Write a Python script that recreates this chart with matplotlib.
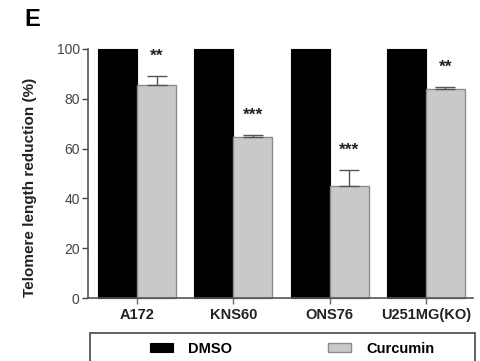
from matplotlib import pyplot as plt
from matplotlib.patches import Rectangle
import numpy as np

plt.rcParams["font.family"] = ["Liberation Sans", "DejaVu Sans"]

cell_lines = ["A172", "KNS60", "ONS76", "U251MG(KO)"]
dmso = [100, 100, 100, 100]
curcumin = [85.5, 64.8, 45.0, 84.0]
curcumin_err = [3.7, 0.5, 6.5, 0.6]
stars = ["**", "***", "***", "**"]

fig = plt.figure(figsize=(4.81, 3.61), dpi=100)
ax = fig.add_axes([0.183, 0.1745, 0.8004, 0.6898])

x = np.arange(len(cell_lines))
w = 0.405
ax.bar(x - w / 2, dmso, w, color="black", edgecolor="black", linewidth=0.8,
       label="DMSO", clip_on=False)
ax.bar(x + w / 2, curcumin, w, color="#c9c9c9", edgecolor="#8c8c8c", linewidth=1.0,
       label="Curcumin", clip_on=False)
ax.errorbar(x + w / 2, curcumin, yerr=[np.zeros(4), curcumin_err], fmt="none",
            ecolor="#555555", elinewidth=1.0, capsize=7, capthick=1.0)

# significance stars above each curcumin bar
for xi, v, e, s in zip(x, curcumin, curcumin_err, stars):
    ax.text(xi + w / 2, v + e + 8.0, s, ha="center", va="center",
            fontsize=12.5, fontweight="bold", color="#222222")

ax.set_xlim(-0.51, 3.49)
ax.set_ylim(0, 100)
ax.set_yticks([0, 20, 40, 60, 80, 100])
ax.set_xticks(x)
ax.set_xticklabels(cell_lines, fontsize=10.5, fontweight="bold", color="#222222")
ax.tick_params(axis="y", labelsize=10, colors="#444444", length=4, width=1.0, pad=2)
ax.tick_params(axis="x", length=4, width=1.0, color="#666666", pad=3)
for sp in ["top", "right"]:
    ax.spines[sp].set_visible(False)
for sp in ["left", "bottom"]:
    ax.spines[sp].set_color("#555555")
    ax.spines[sp].set_linewidth(1.2)

fig.text(0.062, 0.48, "Telomere length reduction (%)", rotation=90,
         ha="center", va="center", fontsize=11, fontweight="bold", color="#222222")
fig.text(0.05, 0.945, "E", ha="left", va="center", fontsize=17, fontweight="bold")

# legend box (cut off at the bottom like the original)
fig.patches.append(Rectangle((90 / 481, -0.05), 385 / 481, 0.05 + 28 / 361,
                             transform=fig.transFigure, fill=False,
                             edgecolor="#555555", linewidth=1.3))
fig.legend(loc="center left", bbox_to_anchor=(150 / 481, 1 - 349 / 361), ncol=2,
           frameon=False, borderpad=0, borderaxespad=0, handlelength=1.6,
           handleheight=0.55, handletextpad=1.0, columnspacing=6.6,
           prop={"size": 10.5, "weight": "bold"})

fig.savefig("out.png", dpi=100)
